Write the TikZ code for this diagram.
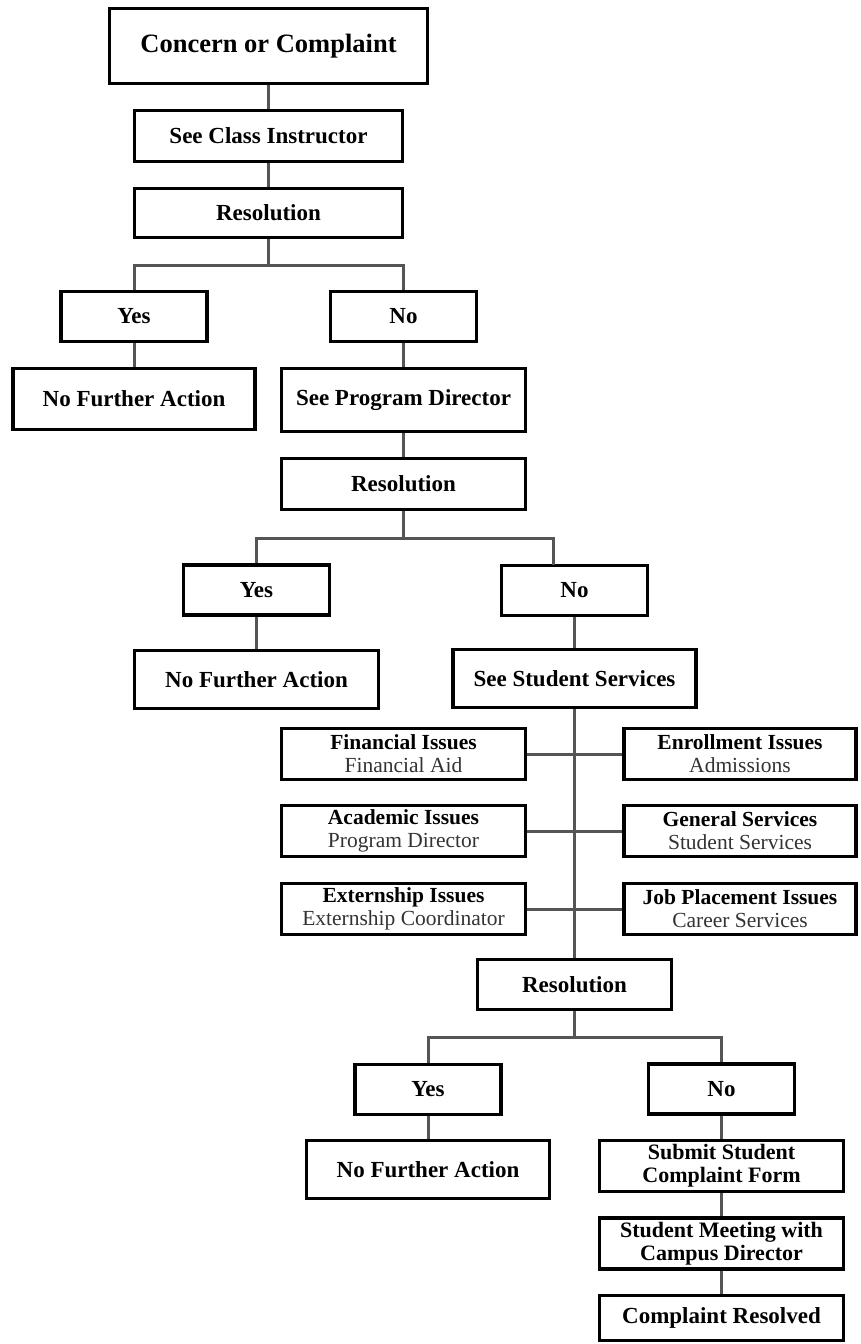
\documentclass[tikz,border=0pt]{standalone}
\usepackage{fontspec}
\setmainfont{Liberation Serif}
\definecolor{linegrey}{HTML}{555555}
\definecolor{subtext}{HTML}{333333}
\begin{document}
\begin{tikzpicture}[x=1pt,y=-1pt,
  box/.style={draw=black, line width=3.5pt, fill=white, inner sep=0pt, align=center,
    font=\bfseries\fontsize{23}{25}\selectfont},
  subbox/.style={box, minimum width=244, minimum height=51,
    font=\bfseries\fontsize{21.5}{23}\selectfont},
  rbox/.style={subbox, minimum width=232},
  yn/.style={box, minimum width=146, minimum height=50},
  link/.style={draw=linegrey, line width=3pt}]
\useasboundingbox (0,0) rectangle (860,1344);
% boxes
\node[box, minimum width=318, minimum height=75, font=\bfseries\fontsize{26.5}{28}\selectfont] (top) at (268.5,46) {Concern or Complaint};
\node[box, minimum width=268, minimum height=51] (sci) at (268.5,136) {See Class Instructor};
\node[box, minimum width=268, minimum height=49] (res1) at (268.5,213) {Resolution};
\node[yn] (yes1) at (134,316.5) {Yes};
\node[yn] (no1) at (403.5,316.5) {No};
\node[box, minimum width=242, minimum height=61] (nfa1) at (134,399) {No Further Action};
\node[box, minimum width=244, minimum height=63] (spd) at (403.5,400) {See Program Director};
\node[box, minimum width=244, minimum height=51] (res2) at (403.5,484) {Resolution};
\node[yn] (yes2) at (256.5,590) {Yes};
\node[box, minimum width=244, minimum height=58] (nfa2) at (256.5,679.5) {No Further Action};
\node[yn] (no2) at (574.5,590.5) {No};
\node[box, minimum width=243, minimum height=58] (sss) at (574.5,678.5) {See Student Services};
\node[subbox] (fin) at (403.5,754) {Financial Issues\\\textmd{\color{subtext}Financial Aid}};
\node[subbox] (aca) at (403.5,831) {Academic Issues\\\textmd{\color{subtext}Program Director}};
\node[subbox] (ext) at (403.5,909) {Externship Issues\\\textmd{\color{subtext}Externship Coordinator}};
\node[rbox] (enr) at (740,754) {Enrollment Issues\\\textmd{\color{subtext}Admissions}};
\node[rbox] (gen) at (740,831) {General Services\\\textmd{\color{subtext}Student Services}};
\node[rbox] (job) at (740,909) {Job Placement Issues\\\textmd{\color{subtext}Career Services}};
\node[box, minimum width=194, minimum height=50] (res3) at (574.5,984.5) {Resolution};
\node[yn] (yes3) at (428,1089.5) {Yes};
\node[box, minimum width=243, minimum height=58] (nfa3) at (428,1169.5) {No Further Action};
\node[yn] (no3) at (721.5,1089) {No};
\node[subbox, font=\bfseries\fontsize{22}{23}\selectfont] (ssc) at (721.5,1166) {Submit Student\\Complaint Form};
\node[subbox, font=\bfseries\fontsize{22}{23}\selectfont] (smc) at (721.5,1243.5) {Student Meeting with\\Campus Director};
\node[box, minimum width=244, minimum height=45] (cr) at (721.5,1318) {Complaint Resolved};
% branch points
\coordinate (b1) at (268.5,265);
\coordinate (b2) at (403.5,538);
\coordinate (b3) at (574.5,1037);
\coordinate (n2in) at (553,564.5);
% connectors
\draw[link] (top.south) -- (sci.north);
\draw[link] (sci.south) -- (res1.north);
\draw[link] (res1.south) -- (b1);
\draw[link] (yes1.north) |- (b1) -| (no1.north);
\draw[link] (yes1.south) -- (nfa1.north);
\draw[link] (no1.south) -- (spd.north);
\draw[link] (spd.south) -- (res2.north);
\draw[link] (res2.south) -- (b2);
\draw[link] (yes2.north) |- (b2) -| (n2in);
\draw[link] (yes2.south) -- (nfa2.north);
\draw[link] (no2.south) -- (sss.north);
\draw[link] (sss.south) -- (res3.north);
\draw[link] (fin.east) -- (enr.west);
\draw[link] (aca.east) -- (gen.west);
\draw[link] (ext.east) -- (job.west);
\draw[link] (res3.south) -- (b3);
\draw[link] (yes3.north) |- (b3) -| (no3.north);
\draw[link] (yes3.south) -- (nfa3.north);
\draw[link] (no3.south) -- (ssc.north);
\draw[link] (ssc.south) -- (smc.north);
\draw[link] (smc.south) -- (cr.north);
\end{tikzpicture}
\end{document}
